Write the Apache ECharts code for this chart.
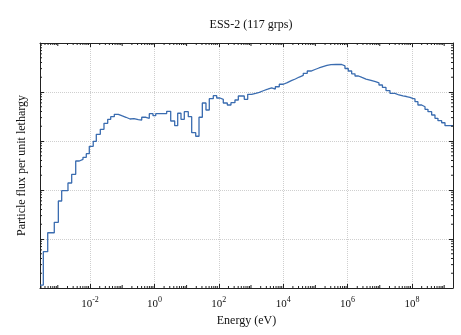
<!DOCTYPE html>
<html>
<head>
<meta charset="utf-8">
<script src="https://cdn.jsdelivr.net/npm/echarts@6/dist/echarts.min.js"></script>
<style>
html, body { margin: 0; padding: 0; background: #fff; }
#chart { width: 461px; height: 335px; }
</style>
</head>
<body>
<div id="chart"></div>
<script>
// group boundaries (eV), low -> high energy
var energyEdges = [
    2.80e-4, 3.55e-4, 4.86e-4, 7.78e-4, 1.04e-3, 1.32e-3, 2.07e-3, 2.70e-3, 3.60e-3, 4.66e-3,
    6.06e-3, 7.67e-3, 9.51e-3, 1.26e-2, 1.57e-2, 2.09e-2, 2.72e-2, 3.55e-2, 4.40e-2, 5.69e-2,
    7.57e-2, 9.64e-2, 0.131, 0.175, 0.232, 0.316, 0.404, 0.548, 0.695, 0.906,
    1.10, 1.49, 2.41, 3.21, 4.27, 5.29, 6.70, 8.49, 11.3, 14.4,
    19.2, 24.3, 30.8, 40.0, 50.7, 67.5, 86.1, 109, 138, 184,
    239, 318, 404, 500, 619, 791, 1050, 1400, 1810, 2410,
    3300, 4400, 5690, 7570, 1.01e4, 1.34e4, 1.79e4, 2.38e4, 3.16e4, 4.21e4,
    5.60e4, 7.30e4, 9.72e4, 1.29e5, 1.72e5, 2.29e5, 3.05e5, 4.36e5, 6.56e5, 8.30e5,
    1.05e6, 1.34e6, 1.70e6, 2.18e6, 2.80e6, 3.73e6, 5.33e6, 7.35e6, 9.44e6, 1.21e7,
    1.56e7, 2.07e7, 2.97e7, 3.94e7, 5.25e7, 6.75e7, 8.67e7, 1.04e8, 1.24e8, 1.53e8,
    2.00e8, 2.54e8, 3.14e8, 4.09e8, 5.18e8, 6.41e8, 8.36e8, 1.06e9, 1.41e9, 1.88e9
];

// flux per unit lethargy in each group (arbitrary units)
var flux = [
    1.15, 5.51, 13.4, 21.9, 59.6, 96.8, 139, 209, 391, 423,
    465, 550, 779, 986, 1370, 1730, 2300, 2770, 3130, 3510,
    3280, 3050, 2810, 2850, 2720, 2680, 3050, 2900, 3610, 3280,
    3610, 3640, 4040, 2560, 2050, 3680, 2770, 3960, 3130, 1480,
    1250, 3050, 5970, 4290, 7300, 8400, 7550, 7100, 5970, 5430,
    6050, 6870, 8280, 8280, 7100, 8980, 9400, 9860, 1.06e4, 1.14e4,
    1.22e4, 1.15e4, 1.28e4, 1.44e4, 1.55e4, 1.70e4, 1.84e4, 2.02e4, 2.19e4, 2.41e4,
    2.68e4, 2.88e4, 3.09e4, 3.28e4, 3.48e4, 3.61e4, 3.67e4, 3.64e4, 3.40e4, 3.02e4,
    2.68e4, 2.35e4, 2.12e4, 1.98e4, 1.84e4, 1.73e4, 1.62e4, 1.53e4, 1.39e4, 1.24e4,
    1.07e4, 9400, 8690, 8360, 8090, 7800, 7440, 7200, 6340, 5430,
    5010, 4440, 3960, 3390, 2900, 2600, 2360, 2050, 2050
];

var xRange = [2.80e-4, 1.88e9];
var yRange = [1, 1e5];
var xLabelExps = [-2, 0, 2, 4, 6, 8];

var font = '"Liberation Serif", "DejaVu Serif", serif';
var axisColor = '#222';
var gridColor = '#cfcfcf';

var xMin = Math.log10(xRange[0]), xMax = Math.log10(xRange[1]);
var yMin = Math.log10(yRange[0]), yMax = Math.log10(yRange[1]);

var points = [];
for (var i = 0; i < flux.length; i++) {
    points.push([Math.log10(energyEdges[i]), Math.log10(flux[i])]);
}
points.push([Math.log10(energyEdges[flux.length]), Math.log10(flux[flux.length - 1])]);

// 2..9 minor ticks per decade (log positions)
function minorTicks(lo, hi, withOdd) {
    var out = [];
    for (var n = Math.floor(lo); n <= Math.ceil(hi); n++) {
        for (var k = 1; k <= 9; k++) {
            if (k == 1 && !(withOdd && Math.abs(n % 2) == 1)) continue;
            var v = n + Math.log10(k);
            if (v > lo + 0.01 && v < hi - 0.01) out.push({v: v, major: k == 1});
        }
    }
    return out;
}
var minorX = minorTicks(xMin, xMax, true);
var minorY = minorTicks(yMin, yMax, false);

function powLabel(v) {
    var e = Math.round(v);
    if (Math.abs(v - e) > 1e-6 || xLabelExps.indexOf(e) < 0) return '';
    return '{b|10}{s|' + e + '}';
}

var chart = echarts.init(document.getElementById('chart'));

function tickLine(x1, y1, x2, y2) {
    return {
        type: 'line',
        shape: {x1: x1, y1: y1, x2: x2, y2: y2},
        style: {stroke: axisColor, lineWidth: 1}
    };
}

var xAxisBase = {
    type: 'value',
    min: xMin,
    max: xMax,
    splitNumber: 6,
    axisLine: {show: true, onZero: false, lineStyle: {color: axisColor, width: 1}},
    axisTick: {show: true, inside: true, length: 4, lineStyle: {color: axisColor}}
};
var yAxisBase = {
    type: 'value',
    min: yMin,
    max: yMax,
    interval: 1,
    axisLine: {show: true, onZero: false, lineStyle: {color: axisColor, width: 1}},
    axisTick: {show: true, inside: true, length: 4, lineStyle: {color: axisColor}},
    axisLabel: {show: false}
};

var option = {
    animation: false,
    backgroundColor: '#fff',
    title: {
        text: 'ESS-2 (117 grps)',
        left: 246,
        textAlign: 'center',
        top: 14,
        textStyle: {fontFamily: font, fontSize: 12, fontWeight: 'normal', color: '#111'}
    },
    grid: {left: 40, right: 8, top: 43, bottom: 47},
    xAxis: [
        echarts.util.merge({
            position: 'bottom',
            name: 'Energy (eV)',
            nameLocation: 'middle',
            nameGap: 20,
            nameTextStyle: {fontFamily: font, fontSize: 12, color: '#111'},
            axisLabel: {
                formatter: powLabel,
                showMinLabel: false,
                showMaxLabel: false,
                margin: 8,
                rich: {
                    b: {fontFamily: font, fontSize: 11, color: '#111', lineHeight: 14, verticalAlign: 'bottom'},
                    s: {fontFamily: font, fontSize: 8, color: '#111', lineHeight: 9, verticalAlign: 'top'}
                }
            },
            splitLine: {show: true, lineStyle: {type: 'dotted', color: gridColor, width: 1}}
        }, xAxisBase, true),
        echarts.util.merge({
            position: 'top',
            axisLabel: {show: false},
            splitLine: {show: false}
        }, xAxisBase, true)
    ],
    yAxis: [
        echarts.util.merge({
            position: 'left',
            name: 'Particle flux per unit lethargy',
            nameLocation: 'middle',
            nameGap: 12,
            nameTextStyle: {fontFamily: font, fontSize: 12, color: '#111'},
            splitLine: {show: true, lineStyle: {type: 'dotted', color: gridColor, width: 1}}
        }, yAxisBase, true),
        echarts.util.merge({
            position: 'right',
            splitLine: {show: false}
        }, yAxisBase, true)
    ],
    series: [
        {
            type: 'line',
            data: points,
            step: 'end',
            symbol: 'none',
            lineStyle: {color: '#3a6cb0', width: 1.3},
            z: 3
        },
        {
            type: 'custom',
            silent: true,
            data: [[xMin, yMin]],
            renderItem: function (params, api) {
                var r = params.coordSys;
                var kids = [];
                minorX.forEach(function (t) {
                    var px = api.coord([t.v, yMin])[0];
                    var len = t.major ? 3 : 2;
                    kids.push(tickLine(px, r.y + r.height, px, r.y + r.height - len));
                    kids.push(tickLine(px, r.y, px, r.y + len));
                });
                minorY.forEach(function (t) {
                    var py = api.coord([xMin, t.v])[1];
                    kids.push(tickLine(r.x, py, r.x + 2, py));
                    kids.push(tickLine(r.x + r.width, py, r.x + r.width - 2, py));
                });
                return {type: 'group', children: kids};
            },
            z: 4
        }
    ]
};

chart.setOption(option);
</script>
</body>
</html>
